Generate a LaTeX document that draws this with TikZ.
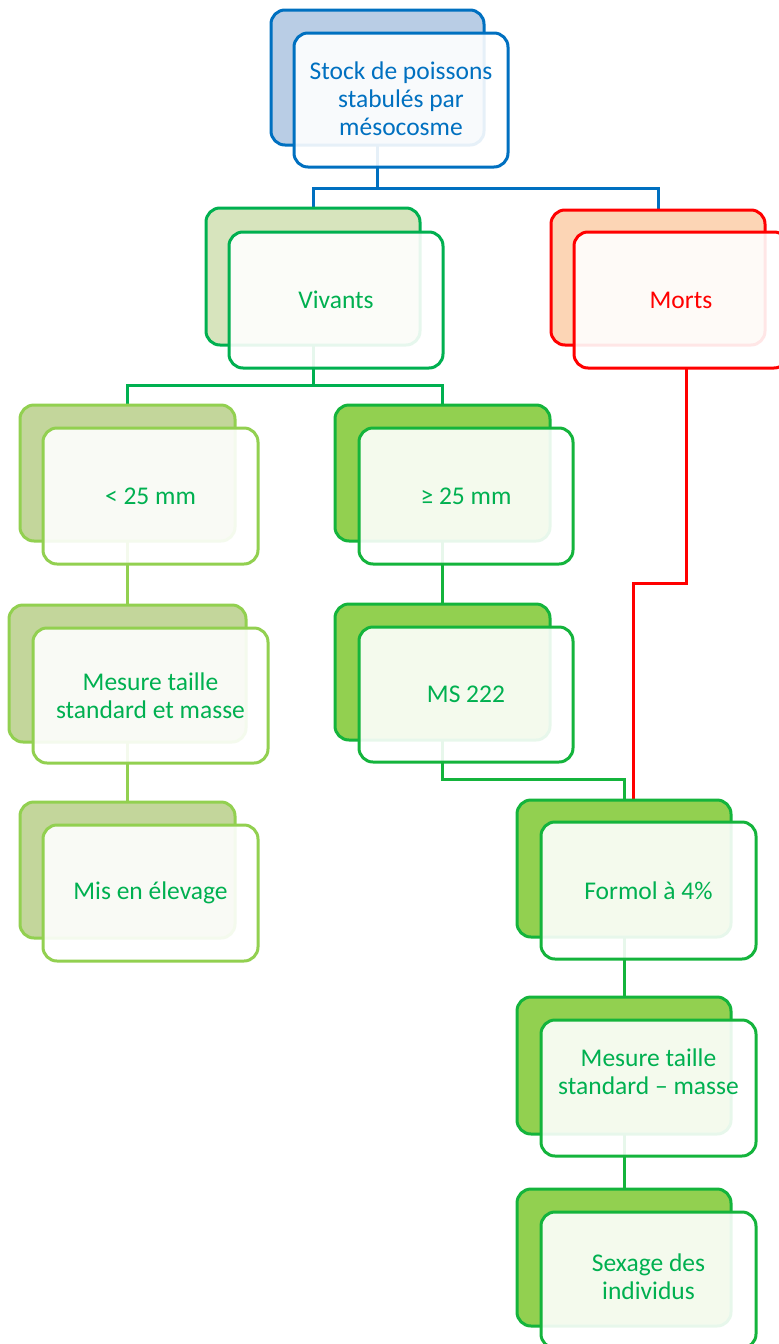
\documentclass[tikz,border=0pt]{standalone}
\usepackage{fontspec}
\setmainfont{Carlito}
\usetikzlibrary{backgrounds}
\definecolor{cblue}{HTML}{0070C0}
\definecolor{cbluefill}{HTML}{B9CDE5}
\definecolor{cgreen}{HTML}{00B050}
\definecolor{cdgreen}{HTML}{14B43C}
\definecolor{cvivfill}{HTML}{D7E4BD}
\definecolor{cred}{HTML}{FF0000}
\definecolor{credfill}{HTML}{FCD5B5}
\definecolor{clgreen}{HTML}{92D050}
\definecolor{clgfill}{HTML}{C3D69B}
\definecolor{cdgfill}{HTML}{92D050}
\tikzset{
  boxbase/.style={draw, line width=3pt, rounded corners=14pt, minimum width=214pt,
    minimum height=136pt, inner sep=0pt, outer sep=0pt, anchor=north west},
  backbox/.style={boxbase},
  boxfont/.style={align=center, font=\fontsize{25.5}{28}\selectfont},
  frontbox/.style={boxbase, fill=white, fill opacity=0.9, draw opacity=1, text opacity=1, boxfont},
  boxtext/.style={boxfont, inner sep=0pt},
  link/.style={line width=3pt},
  tblue/.style={draw=cblue, fill=cbluefill},
  fblue/.style={draw=cblue, text=cblue},
  tviv/.style={draw=cgreen, fill=cvivfill},
  fviv/.style={draw=cgreen, text=cgreen},
  tred/.style={draw=cred, fill=credfill},
  fred/.style={draw=cred, text=cred},
  tlg/.style={draw=clgreen, fill=clgfill},
  flg/.style={draw=clgreen, text=cgreen},
  tdg/.style={draw=cdgreen, fill=cdgfill},
  fdg/.style={draw=cdgreen, text=cgreen},
}
\begin{document}
\begin{tikzpicture}[x=1pt,y=-1pt]
\clip (0,0) rectangle (779,1344);
% stock
\node[backbox,tblue,minimum width=213pt,minimum height=135pt] (stockB) at (271,10) {};
\node[frontbox,fblue,minimum height=134pt] (stock) at (294,33) {};
\node[boxtext,text=cblue] (stockT) at ([yshift=1pt]stock.center) {Stock de poissons\\stabulés par\\mésocosme};
% vivants
\node[backbox,tviv,minimum height=137pt] (vivB) at (206,208) {};
\node[frontbox,fviv] (viv) at (229,232) {Vivants};
% morts
\node[backbox,tred,minimum height=135pt] (mortB) at (551,210) {};
\node[frontbox,fred] (mort) at (574,232) {Morts};
% < 25 mm
\node[backbox,tlg,minimum width=215pt] (ltB) at (20,405) {};
\node[frontbox,flg,minimum width=215pt] (lt) at (43,428) {< 25 mm};
% mesure gauche
\node[backbox,tlg,minimum width=237pt,minimum height=137pt] (mesLB) at (9,605) {};
\node[frontbox,flg,minimum width=235pt,minimum height=135pt] (mesL) at (33,628) {Mesure taille\\standard et masse};
% mis en elevage
\node[backbox,tlg,minimum width=215pt] (misB) at (20,802) {};
\node[frontbox,flg,minimum width=215pt] (mis) at (43,825) {Mis en élevage};
% >= 25 mm
\node[backbox,tdg,minimum width=215pt] (geB) at (335,405) {};
\node[frontbox,fdg] (ge) at (359,428) {≥ 25 mm};
% MS 222
\node[backbox,tdg,minimum width=215pt] (msB) at (335,604) {};
\node[frontbox,fdg,minimum height=135pt] (ms) at (359,627) {MS 222};
% formol
\node[backbox,tdg,minimum height=137pt] (formB) at (517,800) {};
\node[frontbox,fdg,minimum width=215pt,minimum height=137pt] (form) at (541,822) {Formol à 4\%};
% mesure droite
\node[backbox,tdg,minimum height=137pt] (mesRB) at (517,997) {};
\node[frontbox,fdg,minimum width=215pt] (mesR) at (541,1020) {};
\node[boxtext,text=cgreen] (mesRT) at ([yshift=16pt]mesR.center) {Mesure taille\\standard – masse};
% sexage
\node[backbox,tdg,minimum height=137pt] (sexB) at (517,1189) {};
\node[frontbox,fdg,minimum width=215pt] (sex) at (541,1212) {};
\node[boxtext,text=cgreen] (sexT) at ([yshift=3pt]sex.center) {Sexage des\\individus};

\begin{pgfonlayer}{background}
\draw[link,cblue] (stockB.south) -- (stockB.south |- 0,188);
\draw[link,cblue] (vivB.north) -- (vivB.north |- 0,188) -| (mortB.north);
\draw[link,cgreen] (vivB.south) -- (vivB.south |- 0,385);
\draw[link,cgreen] (ltB.north) -- (ltB.north |- 0,385) -| (geB.north);
\draw[link,clgreen] (ltB.south) -- (mesLB.north);
\draw[link,clgreen] (mesLB.south) -- (misB.north);
\draw[link,cdgreen] (geB.south) -- (msB.north);
\draw[link,cdgreen] (msB.south) -- (msB.south |- 0,779) -| (formB.north);
\draw[link,cred] (mort.south -| 686,0) |- (633,583) -- (formB.north -| 633,0);
\draw[link,cdgreen] (formB.south) -- (mesRB.north);
\draw[link,cdgreen] (mesRB.south) -- (sexB.north);
\end{pgfonlayer}
\end{tikzpicture}
\end{document}
